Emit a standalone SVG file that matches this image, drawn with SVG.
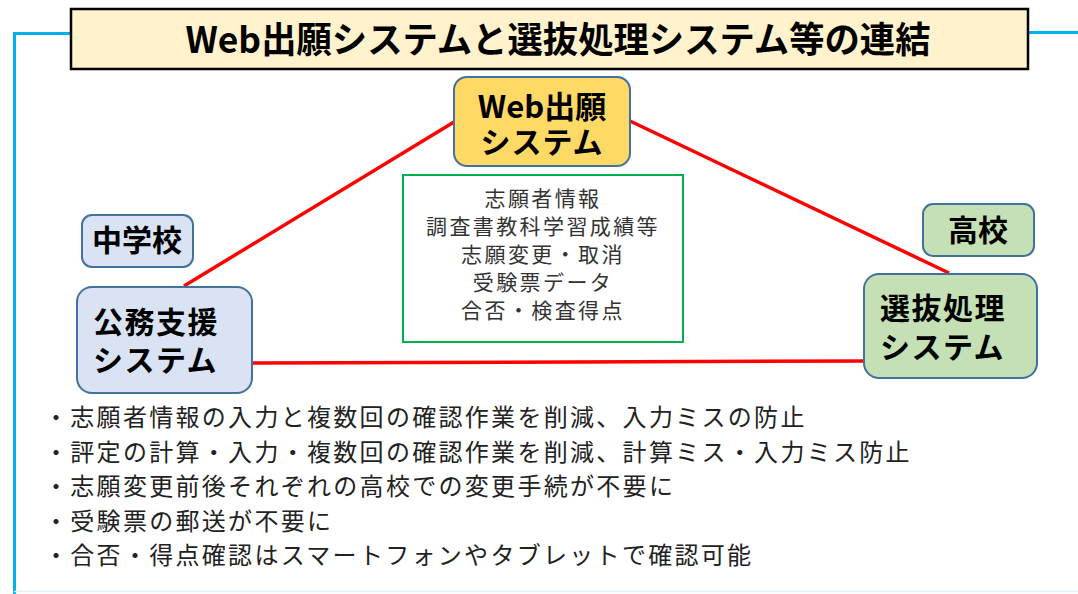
<svg xmlns="http://www.w3.org/2000/svg" width="1078" height="594" viewBox="0 0 1078 594">
<style>
.jp{font-family:"Noto Sans CJK JP","Noto Sans",sans-serif;}
.nodeTxt{font-family:"Noto Sans CJK JP","Noto Sans",sans-serif;font-weight:bold;font-size:30px;fill:#000;}
.blue{fill:#dae3f3;stroke:#41719c;stroke-width:2;}
.green{fill:#c5e0b4;stroke:#41719c;stroke-width:2;}
.conn{stroke:#ff0000;stroke-width:3.5;fill:none;}
.info{font-family:"Noto Sans CJK JP","Noto Sans",sans-serif;font-size:21px;fill:#333;letter-spacing:2.4px;}
.bul{font-family:"Noto Sans CJK JP","Noto Sans",sans-serif;font-size:24px;fill:#222;letter-spacing:2.3px;}
</style>
<rect width="1078" height="594" fill="#fff"/>
<g id="frame">
<path d="M14.5 594 V33.5 H72" fill="none" stroke="#00b0f0" stroke-width="3"/>
<path d="M1028 32.5 H1078" fill="none" stroke="#00b0f0" stroke-width="3"/>
<line x1="14" y1="591.5" x2="1078" y2="591.5" stroke="#e3f3fb" stroke-width="1.5"/>
</g>
<g id="title">
<rect x="71" y="9" width="957" height="60" fill="#fff2cc" stroke="#000" stroke-width="2.5"/>
<text x="558" y="53" text-anchor="middle" class="jp" font-weight="bold" font-size="36" textLength="745" lengthAdjust="spacingAndGlyphs">Web出願システムと選抜処理システム等の連結</text>
</g>
<g id="connectors">
<line class="conn" x1="184" y1="286" x2="454" y2="122"/>
<line class="conn" x1="630" y1="121" x2="949" y2="273"/>
<line class="conn" x1="252" y1="363" x2="864" y2="361"/>
</g>
<g id="web">
<rect x="454" y="77" width="176" height="89" rx="13" fill="#ffd966" stroke="#41719c" stroke-width="2"/>
<text text-anchor="middle" class="nodeTxt"><tspan x="542" y="118" font-size="31">Web出願</tspan><tspan x="542" y="153" letter-spacing="1">システム</tspan></text>
</g>
<g id="info">
<rect x="403" y="175" width="280" height="167" fill="#fff" stroke="#00b050" stroke-width="2"/>
<text text-anchor="middle" class="info"><tspan x="543" y="206">志願者情報</tspan><tspan x="543" y="234">調査書教科学習成績等</tspan><tspan x="543" y="262">志願変更・取消</tspan><tspan x="543" y="290">受験票データ</tspan><tspan x="543" y="318">合否・検査得点</tspan></text>
</g>
<g id="chugakko">
<rect class="blue" x="82" y="215" width="111" height="52" rx="10"/>
<text x="137" y="251" text-anchor="middle" class="nodeTxt">中学校</text>
</g>
<g id="koumu">
<rect class="blue" x="77" y="287" width="175" height="106" rx="15"/>
<text class="nodeTxt" letter-spacing="1.5"><tspan x="93" y="333">公務支援</tspan><tspan x="93" y="371">システム</tspan></text>
</g>
<g id="koukou">
<rect class="green" x="923" y="204" width="111" height="52" rx="10"/>
<text x="978" y="241" text-anchor="middle" class="nodeTxt">高校</text>
</g>
<g id="senbatsu">
<rect class="green" x="864" y="274" width="173" height="104" rx="15"/>
<text class="nodeTxt" letter-spacing="1.5"><tspan x="880" y="319">選抜処理</tspan><tspan x="880" y="358">システム</tspan></text>
</g>
<g id="bullets">
<text x="44" y="426" class="bul">・志願者情報の入力と複数回の確認作業を削減、入力ミスの防止</text>
<text x="44" y="461" class="bul">・評定の計算・入力・複数回の確認作業を削減、計算ミス・入力ミス防止</text>
<text x="44" y="495" class="bul">・志願変更前後それぞれの高校での変更手続が不要に</text>
<text x="44" y="530" class="bul">・受験票の郵送が不要に</text>
<text x="44" y="564" class="bul">・合否・得点確認はスマートフォンやタブレットで確認可能</text>
</g>
</svg>
